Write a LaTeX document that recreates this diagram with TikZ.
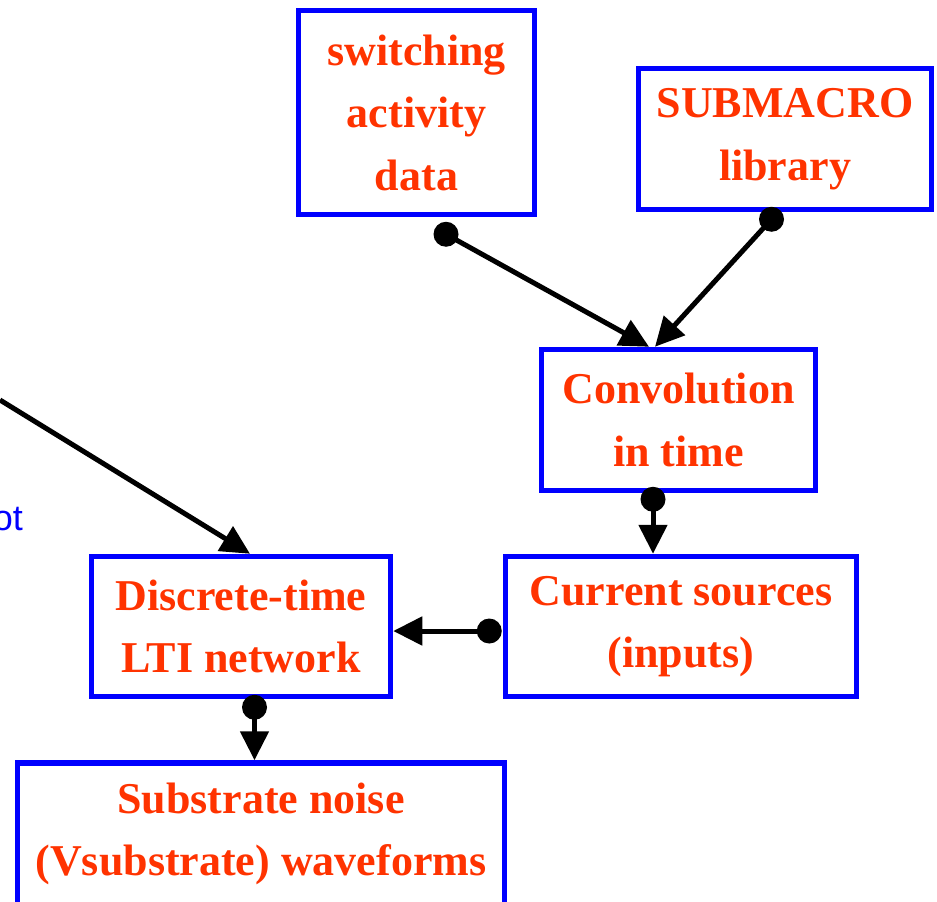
\documentclass[tikz,border=0pt]{standalone}
\usepackage{fontspec}
\setmainfont{Liberation Serif}
\newfontfamily\arialfont{Liberation Sans}
\usetikzlibrary{arrows.meta,calc}
\definecolor{boxblue}{RGB}{0,0,255}
\definecolor{txtred}{RGB}{255,51,0}
\tikzset{
  blockbox/.style={draw=boxblue, line width=5.5pt, rectangle, inner sep=0pt, align=center,
    text=txtred, font=\fontsize{44}{62.5}\selectfont\bfseries},
  conn/.style={draw=black, line width=5pt, -{Triangle[length=29pt 0 0,width=28pt 0 0]}},
  dotend/.style={fill=black}
}
\begin{document}
\begin{tikzpicture}[x=1pt,y=-1pt]
\useasboundingbox (0,0) rectangle (937,902);
\node[blockbox, minimum width=236pt, minimum height=204pt] (sw) at (416.5,112.5) {switching\\activity\\data};
\node[blockbox, minimum width=293pt, minimum height=141pt] (sub) at (785,139) {SUBMACRO\\library};
\node[blockbox, minimum width=274pt, minimum height=141pt] (conv) at (678.5,420) {Convolution\\in time};
\node[blockbox, minimum width=351pt, minimum height=140pt] (cur) at (681,626.5) {Current sources\\(inputs)};
\node[blockbox, minimum width=299pt, minimum height=140pt] (dt) at (241,626.5) {Discrete-time\\LTI network};
\node[blockbox, minimum width=487pt, minimum height=142pt] (subs) at (261,834) {Substrate noise\\(Vsubstrate) waveforms};
\node[anchor=base east, inner sep=0pt, text=boxblue, font=\arialfont\fontsize{36}{40}\selectfont] (ot) at (23,530) {ot};

\coordinate (d1) at ($(sw.south)+(29.5,17)$);
\coordinate (t1) at ($(conv.north)+(-29.5,0)$);
\coordinate (d2) at ($(sub.south)+(-13.5,7)$);
\coordinate (t2) at ($(conv.north)+(-23.5,0)$);
\coordinate (d3) at ($(conv.south)+(-25.5,6)$);
\coordinate (d4) at ($(cur.west)+(-13.5,4.5)$);
\coordinate (d5) at ($(dt.south)+(13.5,8)$);
\coordinate (lft) at (0,400);
\coordinate (t6) at ($(dt.north)+(9,0)$);

\draw[conn] (d1) -- (t1);
\draw[conn] (d2) -- (t2);
\draw[conn] (d3) -- (d3 |- cur.north);
\draw[conn] (d4) -- (d4 -| dt.east);
\draw[conn] (d5) -- (d5 |- subs.north);
\draw[conn] (lft) -- (t6);

\foreach \p in {d1,d2,d3,d4,d5} \fill[dotend] (\p) circle (12.5pt);
\end{tikzpicture}
\end{document}
